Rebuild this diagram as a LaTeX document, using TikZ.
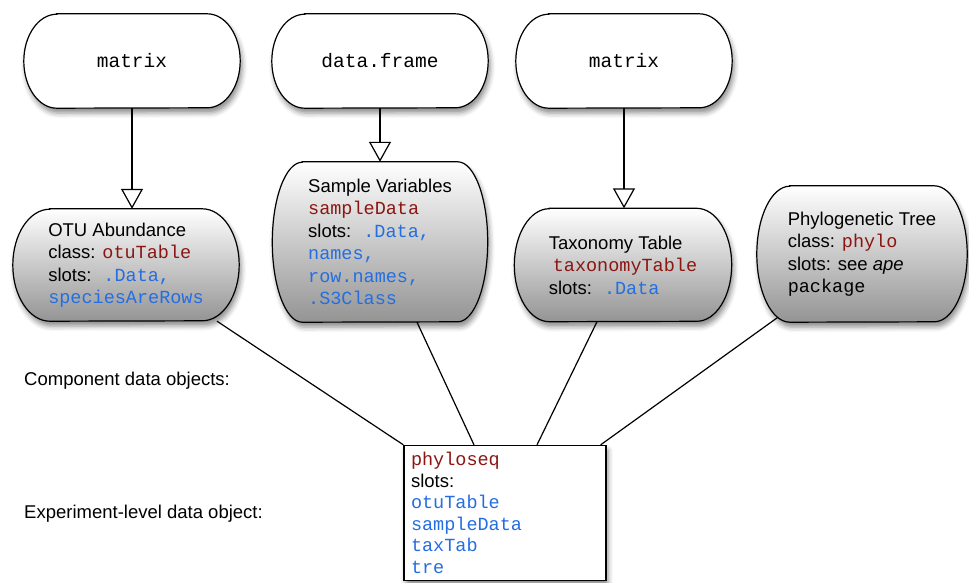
\documentclass[tikz,border=0pt]{standalone}
\usepackage{fontspec}
\setmainfont{Liberation Sans}
\setsansfont{Liberation Sans}
\setmonofont{Liberation Mono}
\usetikzlibrary{arrows.meta, calc, backgrounds, shadows.blur}
\definecolor{clsred}{RGB}{140,22,18}
\definecolor{slotblue}{RGB}{36,110,225}
\newcommand{\clsname}[1]{\textcolor{clsred}{\texttt{#1}}}
\newcommand{\slotname}[1]{\textcolor{slotblue}{\texttt{#1}}}
% outline with elliptic sides round a node: style, node, side depth, half height
\newcommand{\pill}[4]{\path[#1] ([xshift=#3pt]#2.north west) -- ([xshift=-#3pt]#2.north east)
    arc[start angle=-90, end angle=90, x radius=#3, y radius=#4] -- ([xshift=#3pt]#2.south west)
    arc[start angle=90, end angle=270, x radius=#3, y radius=#4] -- cycle;}
\tikzstyle{arrow} = [line width=1.2pt,-{Triangle[open,length=20pt,width=22pt]}]
\tikzstyle{link} = [line width=1.2pt]
\tikzstyle{boxshadow} = [blur shadow={shadow xshift=2pt, shadow yshift=-5pt, shadow blur radius=5pt, shadow opacity=45}]
\tikzstyle{pilltop} = [draw=black, line width=1.2pt, fill=white, boxshadow]
\tikzstyle{pillobj} = [draw=black, line width=1.2pt, top color=white, bottom color=black!42, boxshadow]
\tikzstyle{srcstate} = [rectangle, minimum width=216pt, minimum height=94pt, inner sep=0pt, font=\fontsize{19.5}{22.5}\selectfont\ttfamily]
\tikzstyle{objstate} = [rectangle, inner sep=0pt, align=left]

\begin{document}
\begin{tikzpicture}[x=1pt, y=-1pt, font=\fontsize{18.5}{22.5}\selectfont]
    \useasboundingbox (0,0) rectangle (969,583);
    % source classes
    \node[srcstate](mat_1) at (132,61) {matrix};
    \node[srcstate](frame) at (380,61) {data.frame};
    \node[srcstate](mat_2) at (624,61) {matrix};
    % component objects
    \node[objstate, minimum width=226pt, minimum height=112pt](otu) at (126,265)
        {OTU Abundance\\ class: \clsname{otuTable}\\ slots: \ \slotname{.Data,}\\ \slotname{speciesAreRows}};
    \node[objstate, minimum width=215pt, minimum height=160pt](sam) at (380,242)
        {Sample Variables\\ \clsname{sampleData}\\ slots: \ \slotname{.Data,}\\ \slotname{names,}\\ \slotname{row.names,}\\ \slotname{.S3Class}};
    \node[objstate, minimum width=217pt, minimum height=113pt](tax) at (623,265)
        {Taxonomy Table\\ \hspace{4pt}\clsname{taxonomyTable}\\ slots: \ \slotname{.Data}};
    \node[objstate, minimum width=210pt, minimum height=136pt](tree) at (862,254)
        {Phylogenetic Tree\\ class: \clsname{phylo}\\ slots: see \textit{ape}\\ \texttt{package}};
    % experiment-level object
    \node[rectangle, draw=black, line width=1.2pt, fill=white, boxshadow, text width=188pt, inner sep=7pt,
        minimum height=134pt, align=left, font=\fontsize{18.5}{21.5}\selectfont](pseq) at (505,513)
        {\clsname{phyloseq}\\ slots:\\ \slotname{otuTable}\\ \slotname{sampleData}\\ \slotname{taxTab}\\ \slotname{tre}};
    % level labels
    \node[anchor=west, inner sep=0pt](complbl) at (24,381) {Component data objects:};
    \node[anchor=west, inner sep=0pt](explbl) at (24,514) {Experiment-level data object:};
    \begin{scope}[on background layer]
        \pill{pilltop}{mat_1}{33}{47}
        \pill{pilltop}{frame}{33}{47}
        \pill{pilltop}{mat_2}{33}{47}
        \pill{pillobj}{otu}{37}{56}
        \pill{pillobj}{sam}{30}{80}
        \pill{pillobj}{tax}{35}{56.5}
        \pill{pillobj}{tree}{33}{68}
    \end{scope}
    \draw[arrow] (mat_1) -- (mat_1 |- otu.north);
    \draw[arrow] (frame) -- (frame |- sam.north);
    \draw[arrow] (mat_2) -- (mat_2 |- tax.north);
    \draw[link] ([xshift=91pt]otu.south) -- (pseq.north west);
    \draw[link] ([xshift=37pt]sam.south) -- ([xshift=-31pt]pseq.north);
    \draw[link] ([xshift=-26pt]tax.south) -- ([xshift=32pt]pseq.north);
    \draw[link] ([xshift=-84pt,yshift=5pt]tree.south) -- ([xshift=-6pt]pseq.north east);
\end{tikzpicture}
\end{document}
